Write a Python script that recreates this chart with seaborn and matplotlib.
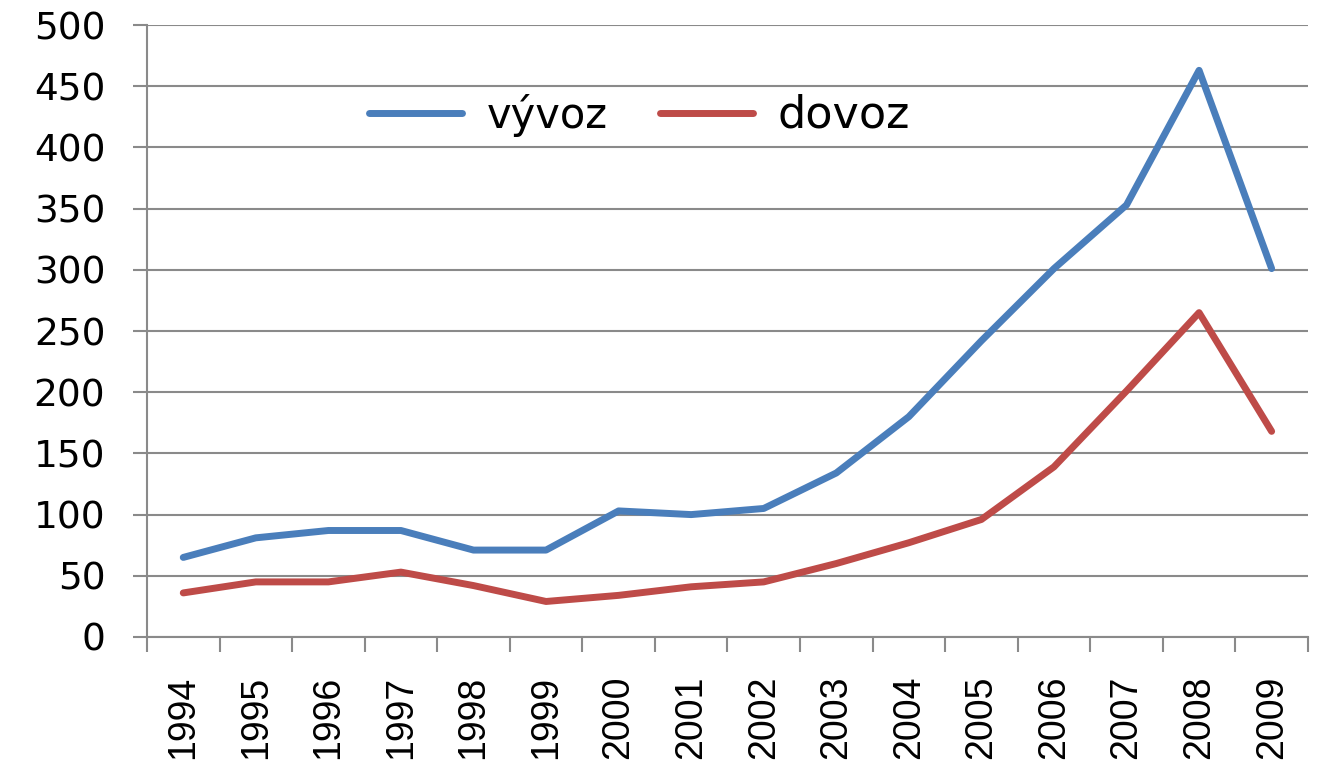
import numpy as np
import pandas as pd
import matplotlib
matplotlib.use("Agg")
import matplotlib.pyplot as plt
import seaborn as sns

years = ["1994", "1995", "1996", "1997", "1998", "1999", "2000", "2001",
         "2002", "2003", "2004", "2005", "2006", "2007", "2008", "2009"]
vyvoz = [65, 81, 87, 87, 71, 71, 103, 100, 105, 134, 180, 242, 301, 353, 463, 301]
dovoz = [36, 45, 45, 53, 42, 29, 34, 41, 45, 60, 77, 96, 139, 201, 265, 168]
series_names = ["vývoz", "dovoz"]
colors = ["#4A7EBB", "#BE4B48"]

df = pd.DataFrame({
    "idx": list(range(len(years))) * 2,
    "value": vyvoz + dovoz,
    "series": [series_names[0]] * len(years) + [series_names[1]] * len(years),
})

sns.set_theme(style="white")
plt.rcParams["font.family"] = ["DejaVu Sans"]
plt.rcParams["text.color"] = "black"
plt.rcParams["xtick.labelcolor"] = "black"
plt.rcParams["ytick.labelcolor"] = "black"

fig = plt.figure(figsize=(13.17, 7.83), dpi=100)
ax = fig.add_axes([0.1116, 0.1865, 0.8815, 0.7815])

grid_c = "#8a8a8a"
sns.lineplot(data=df, x="idx", y="value", hue="series", palette=colors,
             linewidth=5, ax=ax, legend=True)

ax.set_xlim(-0.5, len(years) - 0.5)
ax.set_ylim(0, 500)
ax.set_yticks(np.arange(0, 501, 50))
ax.yaxis.grid(True, color=grid_c, linewidth=1.5)
ax.set_axisbelow(True)
ax.set_xlabel("")
ax.set_ylabel("")

# x labels at category centres, tick marks between categories
ax.set_xticks(range(len(years)))
ax.set_xticklabels(years, rotation=90, fontsize=27, family="Liberation Sans",
                   color="black")
ax.set_xticks(np.arange(-0.5, len(years), 1.0), minor=True)
ax.tick_params(axis="x", which="major", length=0, pad=28)
ax.tick_params(axis="x", which="minor", length=11, width=1.5, color=grid_c,
               direction="out", bottom=True)
ax.tick_params(axis="y", which="major", length=10, width=1.5, color=grid_c,
               direction="out", pad=20, labelsize=27, left=True,
               labelcolor="black")

for side in ["top", "right"]:
    ax.spines[side].set_visible(False)
for side in ["left", "bottom"]:
    ax.spines[side].set_color(grid_c)
    ax.spines[side].set_linewidth(1.5)

leg = ax.legend(loc="center left", bbox_to_anchor=(0.191, 0.853), ncol=2,
                frameon=False, fontsize=30, handlelength=2.25,
                handletextpad=0.58, columnspacing=1.25, borderpad=0,
                borderaxespad=0)
for line in leg.get_lines():
    line.set_linewidth(5)
for t in leg.get_texts():
    t.set_color("black")
leg.get_texts()[1].set_fontsize(32)

fig.savefig("out.png", dpi=100)
